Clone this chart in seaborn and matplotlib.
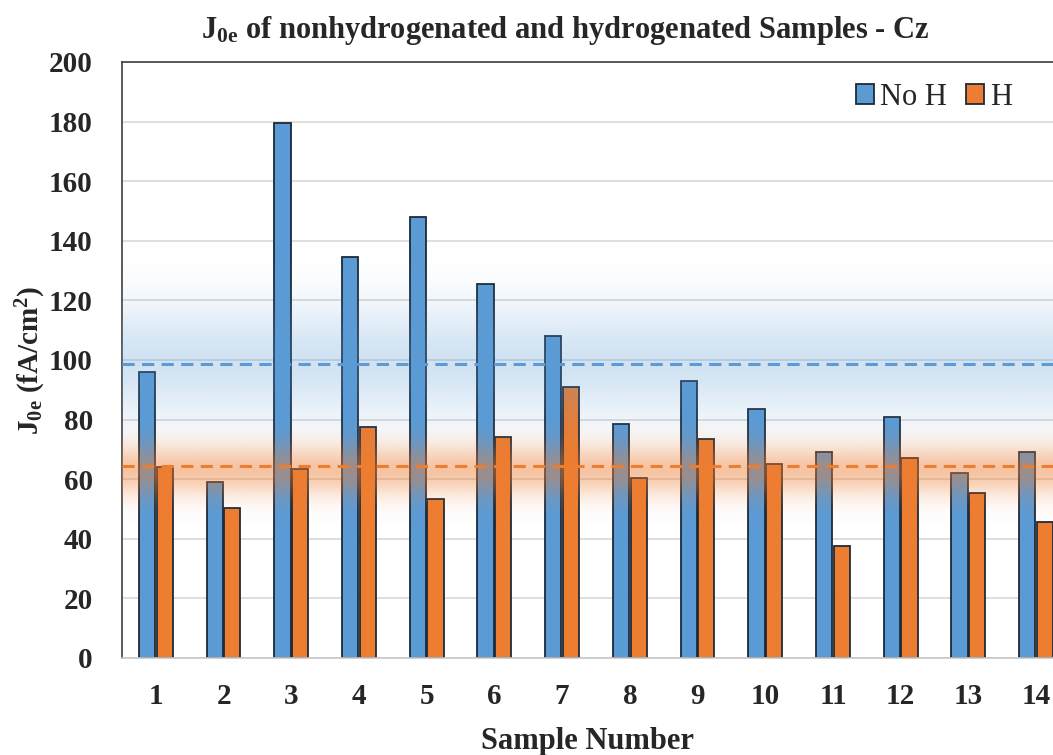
import numpy as np
import pandas as pd
import matplotlib
matplotlib.use("Agg")
import matplotlib.pyplot as plt
import seaborn as sns

# values
samples = [str(i) for i in range(1, 15)]
no_h = [96, 59, 179.5, 134.5, 148, 125.5, 108, 78.5, 93, 83.5, 69, 81, 62, 69]
h = [64, 50.5, 63.5, 77.5, 53.5, 74, 91, 60.5, 73.5, 65, 37.5, 67, 55.5, 45.5]
groups = ["No H", "H"]
no_h_mean = 98.5
h_mean = 64.5
no_h_spread = 13
h_spread = 6

blue = "#5B9BD5"
orange = "#ED7D31"

df = pd.DataFrame({
    "Sample": samples * 2,
    "J0e": no_h + h,
    "Group": [groups[0]] * len(samples) + [groups[1]] * len(samples),
})

sns.set_theme(style="white")
plt.rcParams["font.family"] = ["Liberation Serif", "DejaVu Serif"]
plt.rcParams["mathtext.fontset"] = "custom"
plt.rcParams["mathtext.rm"] = "Liberation Serif:bold"
plt.rcParams["mathtext.bf"] = "Liberation Serif:bold"
plt.rcParams["mathtext.it"] = "Liberation Serif:bold:italic"

fig = plt.figure(figsize=(10.53, 7.55), dpi=100)
ax = fig.add_axes([122 / 1053, 97 / 755, 931 / 1053, 596 / 755])

sns.barplot(data=df, x="Sample", y="J0e", hue="Group", order=samples,
            hue_order=groups, palette={"No H": blue, "H": orange},
            width=0.52, gap=0.08, edgecolor="#1e2a38", linewidth=1.3,
            saturation=1, ax=ax, zorder=2)

x0, x1 = -0.5, 13.25

# soft gradient bands around the two mean lines, drawn over the bars
yy = np.linspace(0, 200, 801)
for c, m, s, peak in [(blue, no_h_mean + 1, no_h_spread, 0.28),
                      (orange, h_mean - 1.5, h_spread, 0.45)]:
    rgb = matplotlib.colors.to_rgb(c)
    img = np.zeros((len(yy), 2, 4))
    img[:, :, :3] = rgb
    img[:, :, 3] = (peak * np.exp(-0.5 * ((yy - m) / s) ** 2))[:, None]
    ax.imshow(img, extent=[x0, x1, 0, 200], origin="lower",
              aspect="auto", zorder=3, interpolation="bilinear")

ax.axhline(no_h_mean, color=blue, ls=(0, (4, 2.4)), lw=2.2, zorder=4)
ax.axhline(h_mean, color=orange, ls=(0, (4, 2.4)), lw=2.2, zorder=4)

ax.set_xlim(x0, x1)
ax.set_ylim(0, 200)
ax.set_yticks(range(0, 201, 20))
ax.set_axisbelow(True)
ax.yaxis.grid(True, color="#d9d9d9", lw=1.2)
ax.xaxis.grid(False)

ax.spines["right"].set_visible(False)
for side in ["left", "top"]:
    ax.spines[side].set_color("#404040")
    ax.spines[side].set_linewidth(1.2)
ax.spines["bottom"].set_color("#c8c8c8")
ax.spines["bottom"].set_linewidth(1.2)

ax.tick_params(axis="both", length=0, labelsize=21)
for lab in ax.get_xticklabels() + ax.get_yticklabels():
    lab.set_fontweight("bold")
ax.tick_params(axis="x", pad=18)
ax.tick_params(axis="y", pad=21)

ax.set_xlabel("Sample Number", fontsize=22, fontweight="bold", labelpad=12)
ax.set_ylabel(r"J$_{\mathrm{0e}}$ (fA/cm$^{\mathrm{2}}$)", fontsize=21,
              fontweight="bold", labelpad=1)

fig.suptitle(r"J$_{\mathrm{0e}}$ of nonhydrogenated and hydrogenated Samples - Cz",
             x=0.537, y=0.982, fontsize=22, fontweight="bold")

leg = ax.legend(loc="center right", bbox_to_anchor=(0.956, 0.941), ncol=2,
                frameon=False, fontsize=22, handlelength=0.6,
                handleheight=0.6, handletextpad=0.2, columnspacing=0.6,
                borderaxespad=0, borderpad=0)
for p in leg.get_patches():
    p.set_edgecolor("#1e2a38")
    p.set_linewidth(1.3)

fig.savefig("out.png", dpi=100)
